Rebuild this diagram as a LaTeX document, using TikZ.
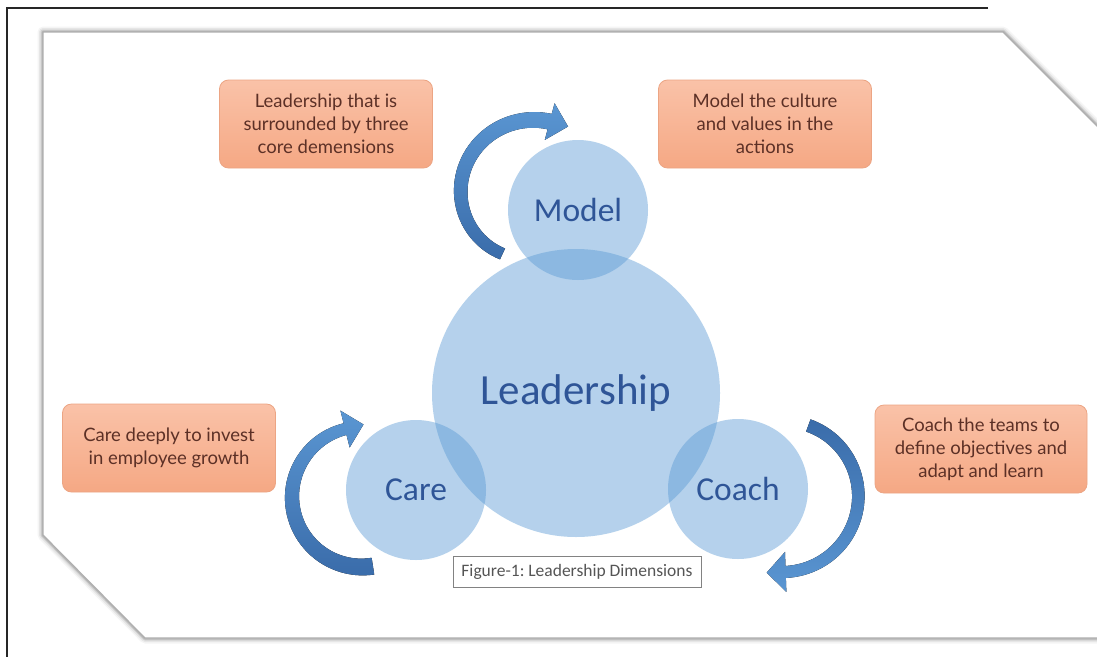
\documentclass[tikz,border=0pt]{standalone}
\usepackage{fontspec}
\setmainfont{Carlito}
\newfontfamily\notefont{Lato}
\frenchspacing
\definecolor{circfill}{RGB}{91,155,213}
\definecolor{circtext}{RGB}{47,85,151}
\definecolor{arrowdark}{RGB}{58,108,170}
\definecolor{arrowlight}{RGB}{90,150,210}
\definecolor{notetop}{RGB}{250,194,168}
\definecolor{notebot}{RGB}{245,168,132}
\definecolor{noteline}{RGB}{236,165,132}
\definecolor{notetext}{RGB}{92,48,38}
\definecolor{captext}{RGB}{85,85,85}
\definecolor{capline}{RGB}{130,130,130}
\definecolor{paneledge}{RGB}{175,175,175}

\tikzset{
  notebox/.style={rounded corners=9pt, draw=noteline, line width=0.8pt,
    top color=notetop, bottom color=notebot, minimum width=213pt,
    minimum height=88pt, align=center, text=notetext, inner sep=0pt,
    font=\notefont\fontsize{18.5}{23}\selectfont},
  dimcircle/.style={circle, fill=circfill, fill opacity=0.45, text opacity=1,
    text=circtext, inner sep=0pt, font=\fontsize{33.5}{36}\selectfont},
  captionbox/.style={draw=capline, line width=0.8pt, fill=white, text=captext,
    minimum width=248pt, minimum height=31pt, inner sep=0pt,
    font=\fontsize{17.5}{20}\selectfont}
}

% Curved band arrow around a centre, running clockwise from angle \ats to \ate.
% Radius and band width vary linearly along the way; the head sits at \ate.
\newcommand{\Rt}{(\ars+(\are-\ars)*((\t)-(\ats))/((\ate)-(\ats)))}
\newcommand{\Wt}{(\aws+(\awe-\aws)*((\t)-(\ats))/((\ate)-(\ats)))}
\newcommand{\bandarrow}[1]{%
  \fill[#1]
    plot[domain=\ats:\ate, samples=50, variable=\t]
      ({\acx+(\Rt+\Wt/2)*cos(\t)}, {\acy-(\Rt+\Wt/2)*sin(\t)})
    -- ({\acx+(\are+\ahw)*cos(\ate)}, {\acy-(\are+\ahw)*sin(\ate)})
    -- ({\acx+sqrt(\are*\are+\ahl*\ahl)*cos(\ate-atan(\ahl/\are))},
        {\acy-sqrt(\are*\are+\ahl*\ahl)*sin(\ate-atan(\ahl/\are))})
    -- ({\acx+(\are-\ahw)*cos(\ate)}, {\acy-(\are-\ahw)*sin(\ate)})
    -- plot[domain=\ate:\ats, samples=50, variable=\t]
      ({\acx+(\Rt-\Wt/2)*cos(\t)}, {\acy-(\Rt-\Wt/2)*sin(\t)})
    -- cycle;}

\begin{document}
\begin{tikzpicture}[x=1pt, y=-1pt]
\useasboundingbox (0,0) rectangle (1097,656);
\fill[white] (0,0) rectangle (1097,656);

% white panel with clipped corners and a soft shadow
\coordinate (p1) at (43,32);
\coordinate (p2) at (1003,32);
\coordinate (p3) at (1230,259);
\coordinate (p4) at (1230,638);
\coordinate (p5) at (145,638);
\coordinate (p6) at (43,535);
\begin{scope}
  \clip (0,0) rectangle (1097,656);
  \foreach \w/\o in {11/0.04, 8/0.06, 5/0.09, 3/0.12}{
    \draw[black, opacity=\o, line width=\w pt, line join=round, shift={(1,1.5)}]
      (p1) -- (p2) -- (p3) -- (p4) -- (p5) -- (p6) -- cycle;
  }
  \fill[white] (p1) -- (p2) -- (p3) -- (p4) -- (p5) -- (p6) -- cycle;
  \draw[paneledge, line width=1.2pt, line join=round]
    (p1) -- (p2) -- (p3) -- (p4) -- (p5) -- (p6) -- cycle;
\end{scope}

% outer frame lines
\coordinate (f1) at (988,8);
\coordinate (f2) at (7,8);
\coordinate (f3) at (7,660);
\draw[black!85, line width=1.3pt] (f1) -- (f2) -- (f3);

% curved arrows
\def\acx{530}\def\acy{195}\def\ats{245}\def\ate{75}
\def\ars{65}\def\are{76}\def\aws{12}\def\awe{16}\def\ahl{19}\def\ahw{19}
\bandarrow{top color=arrowlight, bottom color=arrowdark}

\def\acx{362}\def\acy{497}\def\ats{279}\def\ate{104}
\def\ars{70}\def\are{70}\def\aws{17}\def\awe{12}\def\ahl{19}\def\ahw{19}
\bandarrow{top color=arrowlight, bottom color=arrowdark}

\def\acx{783}\def\acy{495}\def\ats{70}\def\ate{-88}
\def\ars{74}\def\are{77}\def\aws{13}\def\awe{12}\def\ahl{19}\def\ahw{20}
\bandarrow{top color=arrowdark, bottom color=arrowlight}

% circles
\node[dimcircle, minimum size=288pt, font=\fontsize{43}{46}\selectfont]
  (lead) at (576,393) {Leadership};
\node[dimcircle, minimum size=140pt] (model) at (578,210) {Model};
\node[dimcircle, minimum size=140pt] (care) at (416,490) {Care};
\node[dimcircle, minimum size=140pt] (coach) at (738,489) {Coach};

% notes
\node[notebox] (n1) at (326,124)
  {Leadership that is\\surrounded by three\\core demensions};
\node[notebox] (n2) at (765,124)
  {Model the culture\\and values in the\\actions};
\node[notebox] (n3) at (169,448)
  {Care deeply to invest\\in employee growth};
\node[notebox, minimum width=212pt] (n4) at (981,449)
  {Coach the teams to\\define objectives and\\adapt and learn};

% caption
\node[captionbox] (cap) at (577,572) {Figure-1: Leadership Dimensions};
\end{tikzpicture}
\end{document}
